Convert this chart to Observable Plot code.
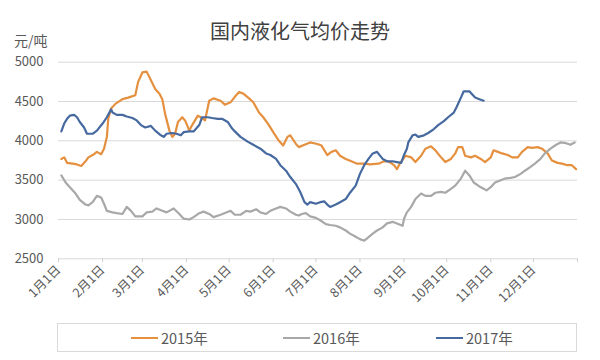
<!DOCTYPE html>
<html><head><meta charset="utf-8">
<script src="https://cdn.jsdelivr.net/npm/d3@7"></script>
<script src="https://cdn.jsdelivr.net/npm/@observablehq/plot@0.6"></script>
<style>
body{margin:0;background:#fff;font-family:"Noto Sans CJK SC","Noto Sans",sans-serif;}
#wrap{position:relative;width:600px;height:360px;overflow:hidden;background:#fff;}
#chart{position:absolute;left:0;top:0;}
#title{position:absolute;left:0;width:600px;top:18px;text-align:center;font-size:20px;line-height:26px;color:#404040;}
#unit{position:absolute;left:14px;top:30px;font-size:14px;line-height:20px;color:#595959;}
#legend{position:absolute;left:57px;top:323px;width:520px;height:29px;border:1px solid #d9d9d9;box-sizing:border-box;}
.item{position:absolute;top:0;height:27px;display:flex;align-items:center;font-size:14.5px;color:#595959;}
.item span.sw{display:inline-block;width:27px;height:2px;margin-right:3px;}
</style></head>
<body>
<div id="wrap">
  <div id="chart"></div>
  <div id="title"></div>
  <div id="unit"></div>
  <div id="legend"></div>
</div>
<script>
const titleText = "国内液化气均价走势";
const unitText = "元/吨";
const seriesNames = ["2015年", "2016年", "2017年"];
const seriesColors = ["#E5903F", "#A8A8A8", "#46699F"];
const yTicks = [2500, 3000, 3500, 4000, 4500, 5000];
const monthLabels = ["1月1日","2月1日","3月1日","4月1日","5月1日","6月1日","7月1日","8月1日","9月1日","10月1日","11月1日","12月1日"];

// day of year offsets (from 1月1日) and prices
const days15 = [2,4,6,10,13,16,19,21,25,27,30,32,34,35,37,40,45,49,54,56,59,62,65,68,71,73,75,78,80,82,84,87,89,92,94,98,100,103,106,109,114,117,121,124,127,130,134,137,141,144,148,151,155,158,161,163,167,169,173,177,182,185,189,192,195,198,202,206,210,215,219,225,229,232,236,238,240,244,248,251,255,258,262,265,269,272,276,279,281,284,286,290,293,297,300,304,306,309,312,316,319,323,326,330,333,337,340,344,347,351,354,358,361,364];
const vals15 = [3770,3790,3720,3710,3700,3680,3740,3790,3830,3860,3830,3900,4050,4280,4410,4470,4530,4550,4580,4750,4870,4880,4770,4660,4600,4530,4340,4130,4050,4090,4240,4300,4260,4130,4200,4320,4300,4260,4510,4540,4510,4460,4490,4560,4620,4600,4540,4490,4360,4300,4200,4110,4000,3940,4050,4070,3960,3920,3950,3980,3960,3940,3820,3860,3880,3810,3770,3740,3710,3710,3700,3710,3740,3740,3690,3640,3710,3810,3790,3730,3810,3900,3930,3880,3790,3730,3770,3840,3920,3920,3810,3790,3810,3770,3730,3790,3880,3860,3840,3820,3790,3790,3860,3920,3910,3920,3900,3840,3750,3720,3710,3690,3690,3640];

const days16 = [2,5,8,12,15,19,21,24,27,30,32,34,38,41,45,48,51,54,59,62,66,69,73,76,81,85,88,92,95,99,102,106,109,114,121,124,128,132,135,139,142,146,149,153,156,160,163,167,169,171,174,177,181,184,188,191,195,198,202,205,209,212,215,217,221,224,228,231,235,238,242,243,245,248,251,255,258,262,265,269,272,276,279,283,286,289,292,296,299,301,304,307,311,314,318,321,325,328,332,335,339,342,346,350,353,357,360,363];
const vals16 = [3560,3470,3410,3330,3250,3190,3180,3220,3300,3280,3200,3110,3090,3080,3070,3160,3110,3040,3040,3090,3100,3140,3110,3090,3140,3070,3010,3000,3030,3080,3100,3070,3030,3060,3110,3060,3060,3110,3100,3130,3090,3070,3110,3140,3160,3140,3100,3060,3050,3070,3080,3040,3020,2990,2940,2930,2920,2900,2860,2820,2780,2750,2730,2760,2820,2860,2900,2950,2970,2950,2920,3010,3090,3160,3260,3330,3300,3300,3340,3350,3340,3390,3430,3520,3620,3560,3470,3420,3390,3370,3410,3470,3500,3520,3530,3540,3580,3620,3670,3710,3770,3840,3900,3950,3980,3970,3950,3980];

const days17 = [2,4,6,8,11,13,15,18,20,24,27,31,34,37,38,41,45,48,52,55,58,61,65,68,72,74,76,80,83,86,88,92,95,99,101,105,108,112,115,119,122,124,128,133,137,142,146,149,153,156,160,163,167,170,173,175,177,181,184,187,189,191,195,198,202,205,209,212,215,218,221,224,228,231,235,238,241,243,245,246,249,251,253,257,260,264,267,271,274,278,280,283,285,289,291,293,296,299];
const vals17 = [4120,4220,4280,4320,4330,4300,4240,4170,4090,4090,4130,4220,4300,4400,4360,4330,4330,4310,4290,4260,4200,4170,4190,4130,4070,4050,4090,4100,4090,4070,4110,4120,4120,4200,4300,4300,4290,4280,4280,4240,4160,4120,4050,3990,3950,3900,3840,3820,3770,3690,3620,3540,3450,3350,3220,3190,3220,3200,3220,3230,3190,3160,3190,3220,3260,3340,3430,3580,3690,3770,3840,3860,3770,3740,3740,3730,3720,3820,3900,3980,4070,4080,4050,4070,4100,4150,4200,4250,4300,4360,4430,4550,4630,4630,4590,4550,4530,4510];

const toDate = d => new Date(Date.UTC(2017, 0, 1 + d));
const build = (days, vals, name) => days.map((d, i) => ({date: toDate(d), value: vals[i], series: name}));
const data = [
  ...build(days15, vals15, seriesNames[0]),
  ...build(days16, vals16, seriesNames[1]),
  ...build(days17, vals17, seriesNames[2])
];
const monthTicks = d3.utcMonths(new Date(Date.UTC(2017,0,1)), new Date(Date.UTC(2018,0,2)));

const chart = Plot.plot({
  width: 600, height: 360,
  marginTop: 61.7, marginBottom: 101.7, marginLeft: 58, marginRight: 23,
  style: {fontFamily: '"Noto Sans CJK SC","Noto Sans",sans-serif', background: "transparent"},
  x: {type: "utc", domain: [new Date(Date.UTC(2017,0,1)), new Date(Date.UTC(2018,0,1))]},
  y: {domain: [2500, 5000]},
  color: {domain: seriesNames, range: seriesColors},
  marks: [
    Plot.gridY(yTicks, {stroke: "#d9d9d9", strokeOpacity: 1, strokeWidth: 1}),
    Plot.axisY(yTicks, {tickSize: 0, tickPadding: 15, fontSize: 13, color: "#595959", label: null, tickFormat: d => String(d)}),
    Plot.axisX(monthTicks, {
      tickSize: 4, stroke: "#d0d0d0", fill: "#595959", tickPadding: 5, tickRotate: -45, fontSize: 12.5, label: null,
      tickFormat: d => d.getUTCFullYear() === 2018 ? "" : monthLabels[d.getUTCMonth()]
    }),
    Plot.lineY(data, {x: "date", y: "value", z: "series", stroke: "series", strokeWidth: 2.2})
  ]
});
document.getElementById("chart").appendChild(chart);
document.getElementById("title").textContent = titleText;
document.getElementById("unit").textContent = unitText;
const legendX = [73, 225, 378];
const leg = document.getElementById("legend");
seriesNames.forEach((n, i) => {
  const it = document.createElement("div");
  it.className = "item";
  it.style.left = legendX[i] + "px";
  const sw = document.createElement("span");
  sw.className = "sw";
  sw.style.background = seriesColors[i];
  it.appendChild(sw);
  it.appendChild(document.createTextNode(n));
  leg.appendChild(it);
});
</script>
</body></html>
